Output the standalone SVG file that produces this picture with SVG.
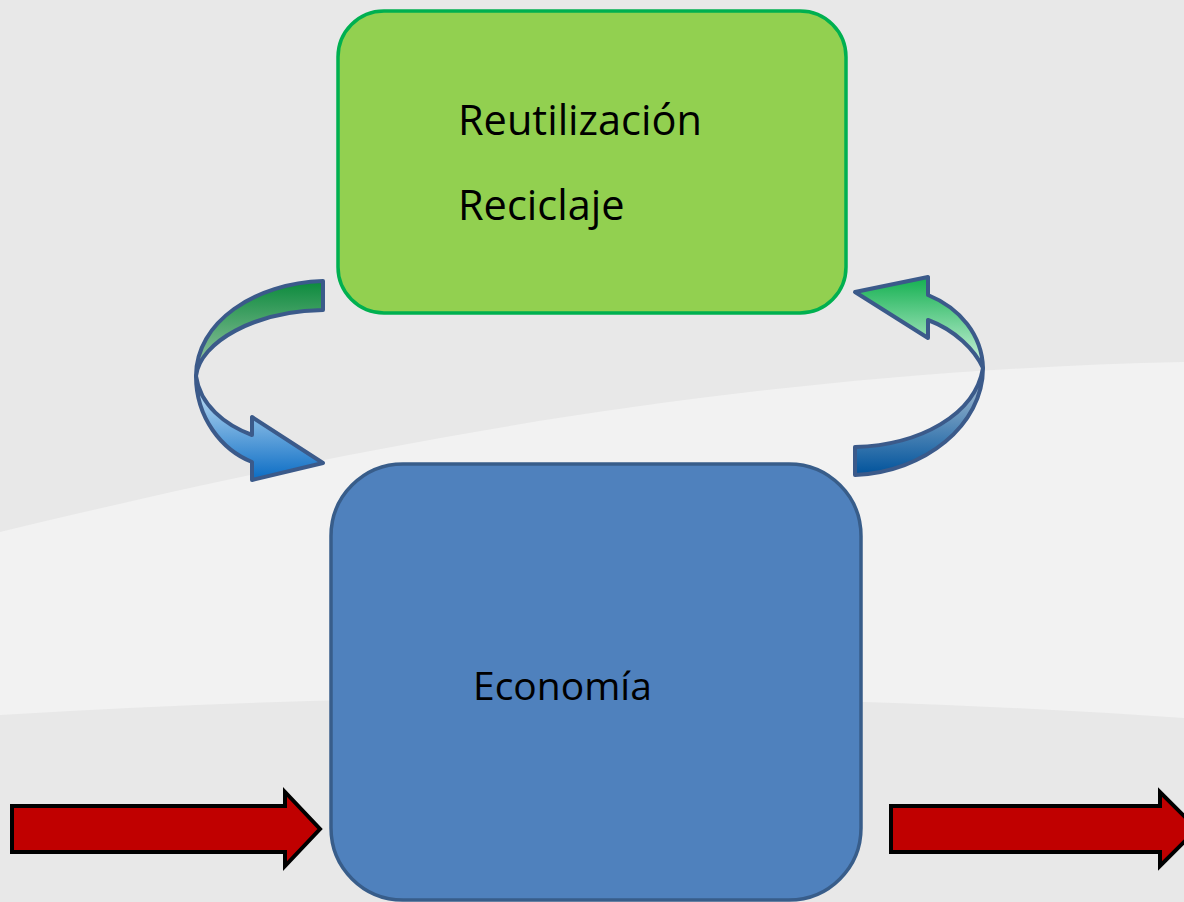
<svg xmlns="http://www.w3.org/2000/svg" width="1184" height="902" viewBox="0 0 1184 902">
<defs>
<style>
.lbl{font-family:"Open Sans","Noto Sans","Liberation Sans",sans-serif;font-size:41.5px;fill:#000}
.lbl2{font-size:39px}
.curl{stroke:#3b5a8a;stroke-width:4;stroke-linejoin:round}
.red{fill:#c00000;stroke:#000;stroke-width:4;stroke-linejoin:miter}
</style>
<linearGradient id="gL" x1="0" y1="0" x2="0" y2="1"><stop offset="0" stop-color="#0b8a3c"/><stop offset="1" stop-color="#a4c9ad"/></linearGradient>
<linearGradient id="bL" x1="0" y1="0" x2="0" y2="1"><stop offset="0" stop-color="#d6ecfa"/><stop offset="1" stop-color="#0a6cc4"/></linearGradient>
<linearGradient id="gR" x1="0" y1="0" x2="0" y2="1"><stop offset="0" stop-color="#13b050"/><stop offset="1" stop-color="#d4f6e2"/></linearGradient>
<linearGradient id="bR" x1="0" y1="0" x2="0" y2="1"><stop offset="0" stop-color="#bccbd9"/><stop offset="1" stop-color="#00539c"/></linearGradient>
</defs>
<g id="background">
<rect x="0" y="0" width="1184" height="902" fill="#e8e8e8"/>
<path d="M0,532 C300,460 700,372 1184,362 L1184,718 Q600,678 0,715 Z" fill="#f2f2f2"/>
</g>
<g id="connectors">
<g id="loop-left">
<path class="curl" fill="url(#bL)" d="M196,376 C196,418 222,450 252,462 L252,480 L323,463 L252,417 L252,435 C225,425 200,405 196,376 Z"/>
<path class="curl" fill="url(#gL)" d="M323,281 C255,283 196,322 196,376 C200,342 255,311 323,310 Z"/>
</g>
<g id="loop-right">
<path class="curl" fill="url(#bR)" d="M983,368 C983,425 925,472 855,475 L855,447 C920,445 975,415 983,368 Z"/>
<path class="curl" fill="url(#gR)" d="M855,292 L928,277 L928,295 C960,308 982,335 983,368 C975,350 955,330 928,320 L928,338 Z"/>
</g>
<path id="arrow-in" class="red" d="M12,806 L285,806 L285,792 L320,829 L285,866 L285,852 L12,852 Z"/>
<path id="arrow-out" class="red" d="M891,806 L1160,806 L1160,792 L1197,829 L1160,866 L1160,852 L891,852 Z"/>
</g>
<g id="node-reuse">
<rect x="338" y="11" width="508" height="302" rx="46" ry="46" fill="#92d050" stroke="#00b050" stroke-width="3.5"/>
<text class="lbl" x="458" y="135">Reutilización</text>
<text class="lbl" x="458" y="220">Reciclaje</text>
</g>
<g id="node-economy">
<rect x="331" y="464" width="530" height="436" rx="72" ry="72" fill="#4f81bd" stroke="#385d8a" stroke-width="3.5"/>
<text class="lbl lbl2" x="473" y="700">Economía</text>
</g>
</svg>
